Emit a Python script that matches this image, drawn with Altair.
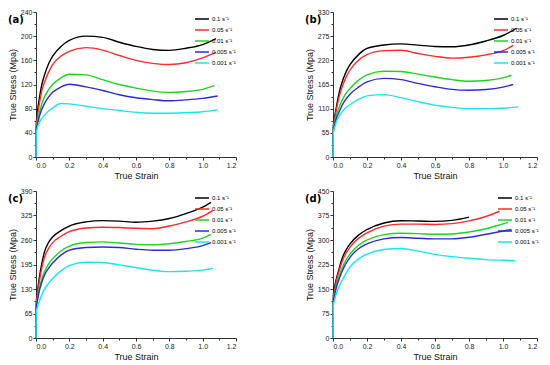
import altair as alt
import pandas as pd

# ---------------- data ----------------
RATES = ["0.1 s⁻¹", "0.05 s⁻¹", "0.01 s⁻¹", "0.005 s⁻¹", "0.001 s⁻¹"]
COLORS = ["#000000", "#ff2a2a", "#1fd41f", "#2b2bd8", "#19e6ee"]

STRAIN_BASE = [0, 0.002, 0.01, 0.02, 0.035, 0.05, 0.075, 0.1, 0.15, 0.2,
               0.3, 0.4, 0.5, 0.6, 0.7, 0.8, 0.9, 1.0]

# panel (a)
A_END = [1.08, 1.08, 1.07, 1.09, 1.09]
A_01 = [0, 55, 78, 97, 120, 135, 154, 167, 183, 193, 200, 198, 190, 183, 178, 176.5, 180, 186, 196]
A_005 = [0, 50, 70, 88, 110, 123, 140, 153, 167, 175, 181, 177, 168, 160, 155, 153, 156, 164, 173]
A_001 = [0, 48, 60, 73, 88, 99, 111, 120, 131, 137, 136, 128, 120, 114, 109, 107, 108.5, 112, 118]
A_0005 = [0, 45, 56, 67, 79, 88, 99, 107, 116, 120.5, 116, 110, 103, 98, 95, 93, 94.5, 97, 101]
A_0001 = [0, 40, 50, 57, 64, 69, 76, 81, 88.5, 88, 84, 80, 77, 74, 72.5, 72.5, 73.5, 75, 78]

# panel (b)
B_END = [1.08, 1.06, 1.05, 1.06, 1.09]
B_01 = [0, 70, 92, 114, 144, 166, 192, 210, 233, 247, 255, 257.5, 254.5, 251.5, 251, 255, 264, 276.5, 293]
B_005 = [0, 65, 88, 108, 135, 155, 180, 198, 220, 233, 242, 243, 235.5, 229, 225, 227, 232.5, 242, 254]
B_001 = [0, 60, 78, 95, 112, 126, 144, 156, 175, 187, 195, 194.5, 188.5, 182, 176, 172.5, 174, 180, 186]
B_0005 = [0, 58, 74, 88, 102, 115, 131, 143, 159, 171, 179, 176, 167.5, 160, 154, 152, 153.5, 159, 165]
B_0001 = [0, 55, 68, 80, 92, 101, 112, 119, 131, 139, 142, 135, 126, 118, 113, 110, 110, 111, 114]

# panel (c)
C_END = [1.05, 1.06, 1.05, 1.05, 1.06]
C_01 = [0, 95, 127, 160, 198, 227, 253, 268, 285, 297, 308, 311.5, 310, 307, 310, 317, 330, 347, 360]
C_005 = [0, 90, 122, 150, 186, 213, 237, 253, 270, 282, 292, 294, 293, 291, 290, 297, 308, 323, 338]
C_001 = [0, 85, 108, 132, 156, 175, 196, 210, 231, 244, 253.5, 255, 252, 248.5, 247.5, 250, 256, 265, 275]
C_0005 = [0, 80, 103, 125, 148, 166, 185, 199, 220, 233, 240, 241.5, 240, 235.5, 233, 233, 237, 245, 253]
C_0001 = [0, 70, 84, 98, 115, 129, 145, 158, 178, 192, 201, 200.5, 194, 187, 180, 176, 177, 180, 185]

# panel (d)
D_END = [0.8, 0.98, 1.03, 1.05, 1.07]
D_01 = [0, 130, 158, 182, 210, 238, 268, 288, 315, 332, 352, 359, 358, 357, 360, 370]
D_005 = [0, 120, 148, 175, 204, 229, 258, 278, 305, 322, 342.5, 348.5, 348.5, 347.5, 350, 358.5, 372, 388]
D_001 = [0, 115, 138, 162, 188, 210, 238, 257, 284, 300, 316.5, 320.5, 319.5, 317.5, 318.5, 324.5, 334.5, 349.5, 354]
D_0005 = [0, 110, 133, 155, 179, 200, 227, 247, 273, 288, 303.5, 307.5, 305.5, 303.5, 303.5, 308.5, 317.5, 327.5, 332]
D_0001 = [0, 100, 118, 137, 156, 173, 196, 217, 242, 257, 271, 274, 266, 256, 249, 244, 240, 238, 237]

Y_MAX = [240, 330, 390, 450]
Y_STEP = [40, 55, 65, 75]
LABELS = ["(a)", "(b)", "(c)", "(d)"]

FONT = "Liberation Sans"


def build_df(series, ends):
    rows = []
    for rate, vals, end in zip(RATES, series, ends):
        strains = STRAIN_BASE[:len(vals) - 1] + [end]
        for i, (s, v) in enumerate(zip(strains, vals)):
            rows.append({"rate": rate, "strain": s, "stress": v, "order": i})
    return pd.DataFrame(rows)


def panel(idx, series, ends, width, height, legend_x):
    df = build_df(series, ends)
    ymax, ystep = Y_MAX[idx], Y_STEP[idx]
    half = ystep / 2
    yvals = [half * i for i in range(int(round(ymax / half)) + 1)]
    xvals = [round(0.1 * i, 1) for i in range(13)]
    x_axis = alt.Axis(
        values=xvals, title="True Strain", grid=False,
        labelExpr="round(datum.value*10) % 2 == 0 ? format(datum.value, '.1f') : ''",
        tickSize={"condition": {"test": "round(datum.value*10) % 2 == 0", "value": 3}, "value": 2},
    )
    y_axis = alt.Axis(
        values=yvals, title="True Stress (Mpa)", grid=False,
        labelExpr=f"datum.value % {ystep} == 0 ? datum.label : ''",
        tickSize={"condition": {"test": f"datum.value % {ystep} == 0", "value": 3}, "value": 2},
    )
    lines = alt.Chart(df).mark_line(interpolate="monotone", strokeWidth=1.4).encode(
        x=alt.X("strain:Q", scale=alt.Scale(domain=[0, 1.2], nice=False), axis=x_axis),
        y=alt.Y("stress:Q", scale=alt.Scale(domain=[0, ymax], nice=False), axis=y_axis),
        color=alt.Color(
            "rate:N",
            scale=alt.Scale(domain=RATES, range=COLORS),
            sort=RATES,
            legend=alt.Legend(
                orient="none", legendX=legend_x, legendY=-1, title=None,
                symbolType="stroke", symbolSize=196, symbolStrokeWidth=1.5,
                labelFontSize=6, labelFont=FONT, labelOffset=2, rowPadding=-5.5,
                padding=0,
            ),
        ),
        order="order:Q",
    )
    lab = alt.Chart(pd.DataFrame({"t": [LABELS[idx]]})).mark_text(
        font="DejaVu Sans", fontWeight="bold", fontSize=10, align="left",
        baseline="middle", color="#000000",
    ).encode(text="t:N", x=alt.value(-28), y=alt.value(8))
    return alt.layer(lines, lab).properties(width=width, height=height)


pa = panel(0, [A_01, A_005, A_001, A_0005, A_0001], A_END, 200, 145, 158)
pb = panel(1, [B_01, B_005, B_001, B_0005, B_0001], B_END, 204, 145, 160)
pc = panel(2, [C_01, C_005, C_001, C_0005, C_0001], C_END, 200, 147, 158)
pd_ = panel(3, [D_01, D_005, D_001, D_0005, D_0001], D_END, 204, 147, 164)

row1 = alt.hconcat(pa, pb, spacing=68).resolve_scale(color="independent")
row2 = alt.hconcat(pc, pd_, spacing=68).resolve_scale(color="independent")

chart = alt.vconcat(row1, row2, spacing=7).resolve_scale(
    color="independent"
).properties(padding=0, background="white").configure_view(stroke=None).configure_axis(
    labelFont=FONT, titleFont=FONT, labelFontSize=7, titleFontSize=9,
    titleFontWeight="normal", domainColor="#333333", tickColor="#333333",
    labelColor="#222222", titleColor="#111111", labelPadding=1, titlePadding=3,
    domainWidth=1, tickWidth=1,
)

chart.save("out.html", embed_options={"renderer": "svg", "actions": False})
